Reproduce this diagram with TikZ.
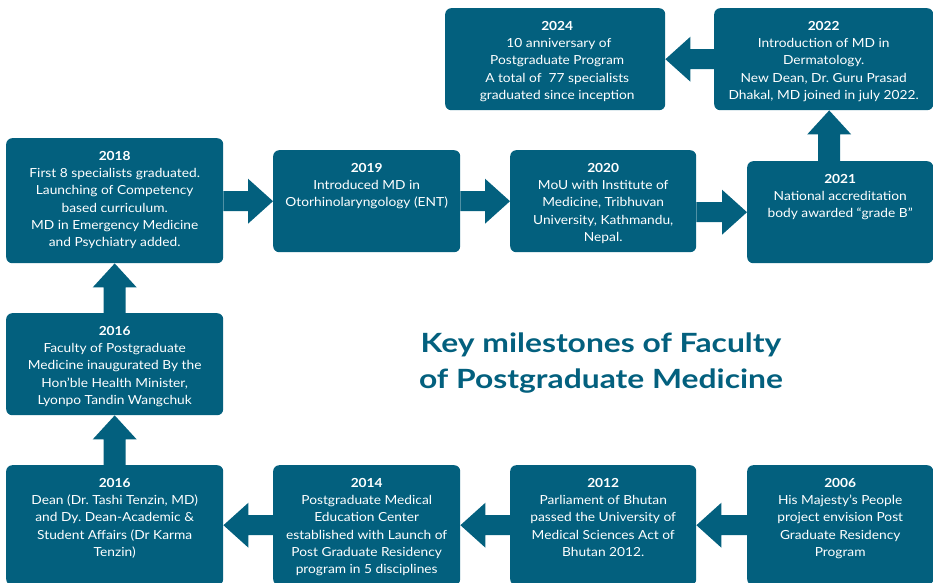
\documentclass[tikz,border=0pt]{standalone}
\usepackage{fontspec}
\setmainfont{Lato}
\newfontfamily\bodyfont[FakeStretch=1.1]{Lato}
\newfontfamily\titlefont[FakeStretch=1.2]{Lato}
\usetikzlibrary{calc}
\definecolor{teal}{RGB}{3,96,126}
\frenchspacing
\tikzset{
  box/.style={fill=teal, rounded corners=6pt, inner sep=0pt, anchor=north west, draw=none},
  txt/.style={text=white, align=center, anchor=north, inner sep=0pt, font=\bodyfont\fontsize{12.5}{17.3}\selectfont\frenchspacing},
  barrow/.style={fill=teal},
}
\newcommand\yr[1]{\textbf{#1}}
\begin{document}
\begin{tikzpicture}[x=1pt,y=-1pt]
\useasboundingbox (0,0) rectangle (933,582);
\clip (0,0) rectangle (933,582);
% boxes
\node[box, minimum width=220pt, minimum height=102pt] (b2024) at (445,8) {};
\node[box, minimum width=219pt, minimum height=102pt] (b2022) at (714,8) {};
\node[box, minimum width=217pt, minimum height=125pt] (b2018) at (6,138) {};
\node[box, minimum width=187pt, minimum height=102pt] (b2019) at (273,150) {};
\node[box, minimum width=186pt, minimum height=102pt] (b2020) at (510,150) {};
\node[box, minimum width=186pt, minimum height=102pt] (b2021) at (747,161) {};
\node[box, minimum width=217pt, minimum height=102pt] (b2016a) at (6,313) {};
\node[box, minimum width=217pt, minimum height=120pt] (b2016b) at (6,465) {};
\node[box, minimum width=187pt, minimum height=120pt] (b2014) at (273,465) {};
\node[box, minimum width=186pt, minimum height=120pt] (b2012) at (510,465) {};
\node[box, minimum width=186pt, minimum height=120pt] (b2006) at (747,465) {};
% texts
\node[txt] (t2024) at ($(b2024.north)+(2,13)$) {\yr{2024}\\ \ 10 anniversary of\\ Postgraduate Program\\ A total of\ \ 77 specialists\\ graduated since inception};
\node[txt] (t2022) at ($(b2022.north)+(0,13)$) {\yr{2022}\\ Introduction of MD in\\ Dermatology.\\ New Dean, Dr. Guru Prasad\\ Dhakal, MD joined in july 2022.};
\node[txt] (t2018) at ($(b2018.north)+(0,13)$) {\yr{2018}\\ First 8 specialists graduated.\\ Launching of Competency\\ based curriculum.\\ MD in Emergency Medicine\\ and Psychiatry added.};
\node[txt] (t2019) at ($(b2019.north)+(0,13)$) {\yr{2019}\\ Introduced MD in\\ Otorhinolaryngology (ENT)};
\node[txt] (t2020) at ($(b2020.north)+(0,13)$) {\yr{2020}\\ MoU with Institute of\\ Medicine, Tribhuvan\\ University, Kathmandu,\\ Nepal.};
\node[txt] (t2021) at ($(b2021.north)+(0,13)$) {\yr{2021}\\ National accreditation\\ body awarded “grade B”};
\node[txt] (t2016a) at ($(b2016a.north)+(0,13)$) {\yr{2016}\\ Faculty of Postgraduate\\ Medicine inaugurated By the\\ Hon’ble Health Minister,\\ Lyonpo Tandin Wangchuk};
\node[txt] (t2016b) at ($(b2016b.north)+(0,13)$) {\yr{2016}\\ Dean (Dr. Tashi Tenzin, MD)\\ and Dy. Dean-Academic \&\\ Student Affairs (Dr Karma\\ Tenzin)};
\node[txt] (t2014) at ($(b2014.north)+(0,13)$) {\yr{2014}\\ Postgraduate Medical\\ Education Center\\ established with Launch of\\ Post Graduate Residency\\ program in 5 disciplines};
\node[txt] (t2012) at ($(b2012.north)+(0,13)$) {\yr{2012}\\ Parliament of Bhutan\\ passed the University of\\ Medical Sciences Act of\\ Bhutan 2012.};
\node[txt] (t2006) at ($(b2006.north)+(0,13)$) {\yr{2006}\\ His Majesty’s People\\ project envision Post\\ Graduate Residency\\ Program};
% title
\node[text=teal, align=center, anchor=north, inner sep=0pt, font=\titlefont\fontsize{26.5}{36}\selectfont\bfseries] (title) at (601,333) {Key milestones of Faculty\\ of Postgraduate Medicine};
% right-pointing arrows
\fill[barrow] let \p1=(b2018.east), \p2=(b2019.west) in (\x1,\y2+10pt) -- (\x2-25pt,\y2+10pt) -- (\x2-25pt,\y2+22.5pt) -- (\x2,\y2) -- (\x2-25pt,\y2-22.5pt) -- (\x2-25pt,\y2-10pt) -- (\x1,\y2-10pt) -- cycle;
\fill[barrow] let \p1=(b2019.east), \p2=(b2020.west) in (\x1,\y2+10pt) -- (\x2-25pt,\y2+10pt) -- (\x2-25pt,\y2+22.5pt) -- (\x2,\y2) -- (\x2-25pt,\y2-22.5pt) -- (\x2-25pt,\y2-10pt) -- (\x1,\y2-10pt) -- cycle;
\fill[barrow] let \p1=(b2020.east), \p2=(b2021.west) in (\x1,\y2+10pt) -- (\x2-25pt,\y2+10pt) -- (\x2-25pt,\y2+22.5pt) -- (\x2,\y2) -- (\x2-25pt,\y2-22.5pt) -- (\x2-25pt,\y2-10pt) -- (\x1,\y2-10pt) -- cycle;
% left-pointing arrows
\fill[barrow] let \p1=(b2022.west), \p2=(b2024.east) in (\x1,\y2+10pt) -- (\x2+25pt,\y2+10pt) -- (\x2+25pt,\y2+22.5pt) -- (\x2,\y2) -- (\x2+25pt,\y2-22.5pt) -- (\x2+25pt,\y2-10pt) -- (\x1,\y2-10pt) -- cycle;
\fill[barrow] let \p1=(b2006.west), \p2=(b2012.east) in (\x1,\y2+10pt) -- (\x2+25pt,\y2+10pt) -- (\x2+25pt,\y2+22.5pt) -- (\x2,\y2) -- (\x2+25pt,\y2-22.5pt) -- (\x2+25pt,\y2-10pt) -- (\x1,\y2-10pt) -- cycle;
\fill[barrow] let \p1=(b2012.west), \p2=(b2014.east) in (\x1,\y2+10pt) -- (\x2+25pt,\y2+10pt) -- (\x2+25pt,\y2+22.5pt) -- (\x2,\y2) -- (\x2+25pt,\y2-22.5pt) -- (\x2+25pt,\y2-10pt) -- (\x1,\y2-10pt) -- cycle;
\fill[barrow] let \p1=(b2014.west), \p2=(b2016b.east) in (\x1,\y2+10pt) -- (\x2+25pt,\y2+10pt) -- (\x2+25pt,\y2+22.5pt) -- (\x2,\y2) -- (\x2+25pt,\y2-22.5pt) -- (\x2+25pt,\y2-10pt) -- (\x1,\y2-10pt) -- cycle;
% up arrows
\coordinate (u2021) at ($(b2021.north)+(-11,0)$);
\fill[barrow] let \p1=(b2016b.north), \p2=(b2016a.south) in (\x1-11pt,\y1) -- (\x1-11pt,\y2-24pt) -- (\x1-22pt,\y2-24pt) -- (\x1,\y2) -- (\x1+22pt,\y2-24pt) -- (\x1+11pt,\y2-24pt) -- (\x1+11pt,\y1) -- cycle;
\fill[barrow] let \p1=(b2016a.north), \p2=(b2018.south) in (\x1-11pt,\y1) -- (\x1-11pt,\y2-24pt) -- (\x1-22pt,\y2-24pt) -- (\x1,\y2) -- (\x1+22pt,\y2-24pt) -- (\x1+11pt,\y2-24pt) -- (\x1+11pt,\y1) -- cycle;
\fill[barrow] let \p1=(u2021), \p2=(b2022.south) in (\x1-11pt,\y1) -- (\x1-11pt,\y2-24pt) -- (\x1-22pt,\y2-24pt) -- (\x1,\y2) -- (\x1+22pt,\y2-24pt) -- (\x1+11pt,\y2-24pt) -- (\x1+11pt,\y1) -- cycle;
\end{tikzpicture}
\end{document}
